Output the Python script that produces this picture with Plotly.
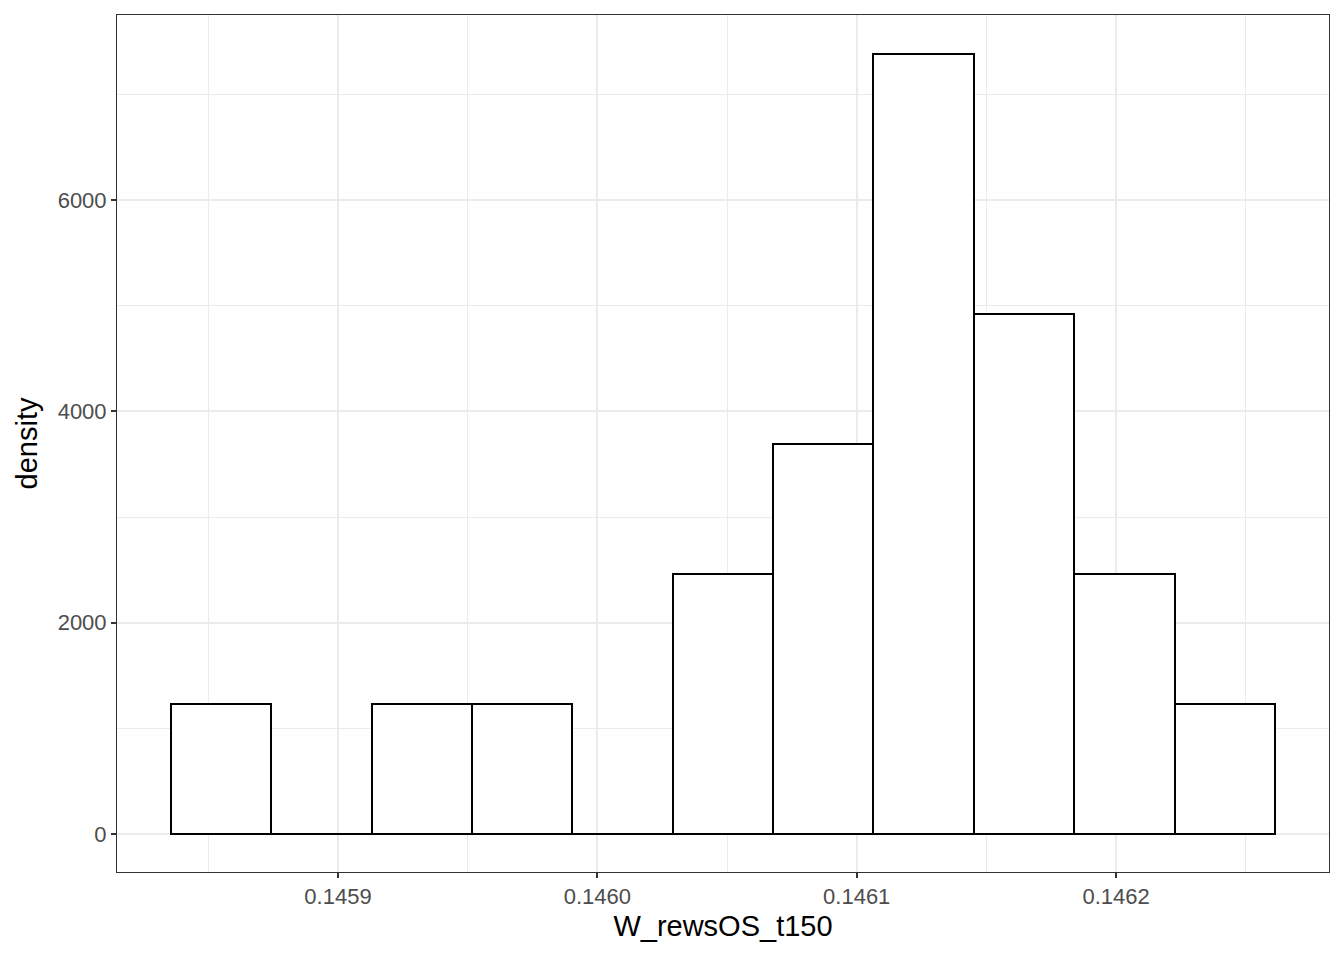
import plotly.graph_objects as go

# Histogram bins (centers) and density values
bin_centers = [0.1458549, 0.1458936, 0.1459323, 0.1459710, 0.1460097, 0.1460484,
               0.1460871, 0.1461258, 0.1461645, 0.1462032, 0.1462419]
density = [1230, 0, 1230, 1230, 0, 2461, 3691, 7383, 4922, 2461, 1230]
bin_width = 0.0000387

x_ticks = [0.1459, 0.1460, 0.1461, 0.1462]
y_ticks = [0, 2000, 4000, 6000]

fig = go.Figure()
fig.add_trace(go.Bar(
    x=bin_centers, y=density, width=[bin_width] * len(bin_centers),
    marker=dict(color="white", line=dict(color="black", width=2)),
    showlegend=False,
))

font = "Liberation Sans, Arial, sans-serif"
fig.update_layout(
    width=1344, height=960,
    margin=dict(l=109, r=23, t=7, b=96),
    plot_bgcolor="white", paper_bgcolor="white",
    bargap=0,
    font=dict(family=font),
)
fig.update_xaxes(
    range=[0.1458148, 0.1462821],
    tickvals=x_ticks, ticktext=[f"{v:.4f}" for v in x_ticks],
    showgrid=True, gridcolor="#EBEBEB", gridwidth=2,
    minor=dict(showgrid=True, gridcolor="#EBEBEB", gridwidth=1, dtick=0.00005, tick0=0.14585),
    ticks="outside", ticklen=5, tickcolor="#333333", tickwidth=1.5,
    tickfont=dict(size=22, color="#4D4D4D", family=font),
    showline=True, linecolor="#333333", linewidth=1, mirror=True,
    zeroline=False,
    title=dict(text="W_rewsOS_t150", font=dict(size=29, color="black", family=font), standoff=7),
)
fig.update_yaxes(
    range=[-360, 7752],
    tickvals=y_ticks, ticktext=[str(v) for v in y_ticks],
    showgrid=True, gridcolor="#EBEBEB", gridwidth=2,
    minor=dict(showgrid=True, gridcolor="#EBEBEB", gridwidth=1, tickvals=[1000, 3000, 5000, 7000]),
    ticks="outside", ticklen=5, tickcolor="#333333", tickwidth=1.5,
    tickfont=dict(size=22, color="#4D4D4D", family=font),
    showline=True, linecolor="#333333", linewidth=1, mirror=True,
    zeroline=False,
    title=dict(text="density", font=dict(size=29, color="black", family=font), standoff=11),
)

fig.write_html("out.html")
